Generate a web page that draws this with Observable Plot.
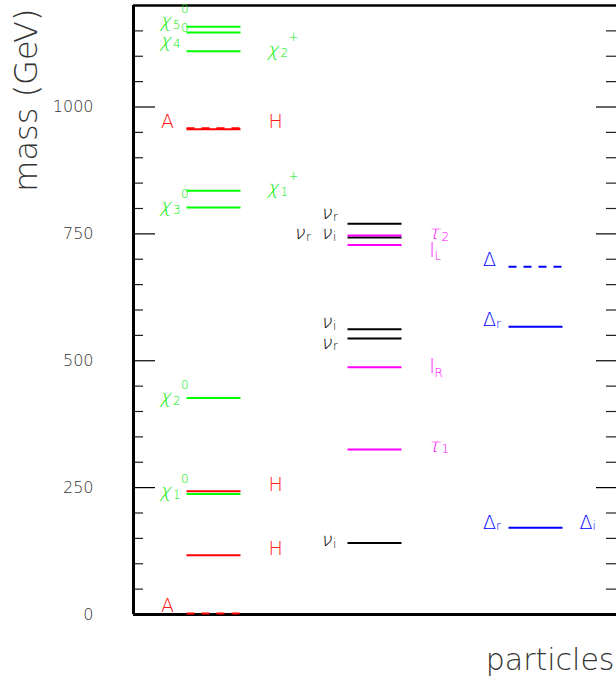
<!DOCTYPE html>
<html><head><meta charset="utf-8">
<script src="https://cdn.jsdelivr.net/npm/d3@7"></script>
<script src="https://cdn.jsdelivr.net/npm/@observablehq/plot@0.6"></script>
<style>body{margin:0;background:#fff}</style>
</head><body><div id="chart"></div>
<script>
// column index: 0 = Higgs & gauginos, 1 = sleptons & sneutrinos, 2 = triplet Δ
const neutralinoMass = [237.6, 426.5, 802, 1147, 1158];   // χ1..χ5 neutral
const charginoMass   = [835, 1110];                       // χ1+, χ2+
const higgsHMass     = [116.8, 242.7, 956];               // H (solid)
const higgsAMass     = [2, 958];                          // A (dashed)
const sneutrinoMass  = [141, 544, 562, 743, 770];         // ν_r / ν_i
const sleptonMass    = [325, 487, 728, 747];              // τ1, l_R, l_L, τ2
const deltaMass      = [171, 567];                        // Δ_r / Δ_i
const deltaDashMass  = [685];                             // Δ (dashed)

const majorTicks = [0, 250, 500, 750, 1000];
const minorTicks = d3.range(50, 1200, 50).filter(v => v % 250 !== 0);

// labels: column, side, label height (GeV), base glyph, subscript, superscript, family
const labels = [
  {c:0, s:"L", m:1170, b:"χ", sub:"5", sup:"0", f:"chi"},
  {c:0, s:"L", m:1131, b:"χ", sub:"4", sup:"0", f:"chi"},
  {c:0, s:"R", m:1113, b:"χ", sub:"2", sup:"+", f:"chi"},
  {c:0, s:"L", m:971,  b:"A", f:"higgs"},
  {c:0, s:"R", m:971,  b:"H", f:"higgs"},
  {c:0, s:"R", m:841,  b:"χ", sub:"1", sup:"+", f:"chi"},
  {c:0, s:"L", m:805,  b:"χ", sub:"3", sup:"0", f:"chi"},
  {c:0, s:"L", m:428,  b:"χ", sub:"2", sup:"0", f:"chi"},
  {c:0, s:"L", m:243,  b:"χ", sub:"1", sup:"0", f:"chi"},
  {c:0, s:"R", m:255,  b:"H", f:"higgs"},
  {c:0, s:"R", m:129,  b:"H", f:"higgs"},
  {c:0, s:"L", m:17,   b:"A", f:"higgs"},
  {c:1, s:"L", m:791,  b:"ν", sub:"r", f:"nu"},
  {c:1, s:"LL", m:752, b:"ν", sub:"r", f:"nu"},
  {c:1, s:"L", m:752,  b:"ν", sub:"i", f:"nu"},
  {c:1, s:"R", m:752,  b:"τ", sub:"2", f:"slep"},
  {c:1, s:"R", m:717,  b:"l", sub:"L", f:"slep"},
  {c:1, s:"L", m:577,  b:"ν", sub:"i", f:"nu"},
  {c:1, s:"L", m:536,  b:"ν", sub:"r", f:"nu"},
  {c:1, s:"R", m:488,  b:"l", sub:"R", f:"slep"},
  {c:1, s:"R", m:333,  b:"τ", sub:"1", f:"slep"},
  {c:1, s:"L", m:146,  b:"ν", sub:"i", f:"nu"},
  {c:2, s:"L", m:698,  b:"Δ", f:"delta"},
  {c:2, s:"L", m:580,  b:"Δ", sub:"r", f:"delta"},
  {c:2, s:"L", m:181,  b:"Δ", sub:"r", f:"delta"},
  {c:2, s:"RR", m:181, b:"Δ", sub:"i", f:"delta"}
];

// ---- styling ----
const FONT = "'DejaVu Sans', Lato, sans-serif";
const famColor = {chi:"#00ee00", higgs:"#ff1a1a", nu:"#000000", slep:"#ff00ff", delta:"#0000ff"};
const sideDx = {L:-53, LL:-80, R:54.5, RR:43.5};
const subDx = {"χ":12, "ν":11, "τ":12, "l":5, "Δ":13, "A":13, "H":13};
const greek = {"χ":true, "ν":true, "τ":true};

const lv = (arr, c) => arr.map(m => ({c, m}));
const levelMark = (data, color, dash) => Plot.ruleY(data, {
  y: "m", x1: d => d.c, x2: d => d.c + 1, insetLeft: 53.5, insetRight: 53.5,
  stroke: color, strokeWidth: 2, strokeDasharray: dash
});

const chart = Plot.plot({
  width: 616, height: 679,
  marginLeft: 133, marginRight: 0, marginTop: 5, marginBottom: 65,
  x: {domain: [0, 3], axis: null},
  y: {domain: [0, 1200], axis: null},
  style: {fontFamily: FONT, fontWeight: 200, background: "#fff"},
  marks: [
    Plot.ruleY(minorTicks, {y: d => d, insetRight: 473, stroke: "#222", strokeWidth: 1.2}),
    Plot.ruleY(majorTicks, {y: d => d, insetRight: 461, stroke: "#000", strokeWidth: 1.2}),
    Plot.ruleY(minorTicks, {y: d => d, insetLeft: 473, stroke: "#222", strokeWidth: 1.2}),
    Plot.ruleY(majorTicks, {y: d => d, insetLeft: 463, stroke: "#000", strokeWidth: 1.2}),
    Plot.ruleX([0], {stroke: "#000", strokeWidth: 3}),
    Plot.ruleY([0], {stroke: "#000", strokeWidth: 3}),
    Plot.ruleY([1200], {stroke: "#000", strokeWidth: 2.5}),
    Plot.axisY(majorTicks, {tickSize: 0, tickPadding: 40, fontSize: 16, label: null, fill: "#333",
      tickFormat: d => String(d)}),
    levelMark(lv(neutralinoMass, 0), "#00ff00"),
    levelMark(lv(charginoMass, 0), "#00ff00"),
    levelMark(lv(higgsHMass, 0), "#ff0000"),
    levelMark(lv(higgsAMass, 0), "#ff0000", "8,7"),
    levelMark(lv(sneutrinoMass, 1), "#000000"),
    levelMark(lv(sleptonMass, 1), "#ff00ff"),
    levelMark(lv(deltaMass, 2), "#0000ff"),
    levelMark(lv(deltaDashMass, 2), "#0000ff", "8,7"),
    ...Object.keys(sideDx).flatMap(side => {
      const base = labels.filter(d => d.s === side);
      const groups = d3.groups(base, d => d.b);
      return groups.flatMap(([glyph, rows]) => [
        Plot.text(rows, {x: d => d.c + 0.5, y: "m", text: "b", textAnchor: "start", lineAnchor: "middle",
          dx: sideDx[side], fill: d => famColor[d.f], fontSize: 19, fontWeight: 200,
          className: greek[glyph] ? "greek" : "latin"}),
        Plot.text(rows.filter(d => d.sub), {x: d => d.c + 0.5, y: "m", text: "sub", textAnchor: "start", lineAnchor: "middle",
          dx: sideDx[side] + subDx[glyph], dy: glyph === "l" ? 6 : 4, fill: d => famColor[d.f], fontSize: 12, fontWeight: 200}),
        Plot.text(rows.filter(d => d.sup), {x: d => d.c + 0.5, y: "m", text: "sup", textAnchor: "start", lineAnchor: "middle",
          dx: sideDx[side] + 20, dy: -12, fill: d => famColor[d.f], fontSize: 12, fontWeight: 200})
      ]);
    }),
    Plot.text(["mass (GeV)"], {frameAnchor: "top-left", rotate: -90, textAnchor: "end", lineAnchor: "middle",
      dx: -107, dy: 3, fontSize: 32, fill: "#333"}),
    Plot.text(["particles"], {frameAnchor: "bottom-right", textAnchor: "end", lineAnchor: "middle",
      dx: -2, dy: 46, fontSize: 30, fill: "#333"})
  ]
});

// slant the Greek glyphs (thin upright face + skew, like the original italic symbols)
chart.querySelectorAll(".greek text").forEach(t => {
  const tr = t.getAttribute("transform");
  if (tr) t.setAttribute("transform", `${tr} skewX(-14)`);
});
document.getElementById("chart").append(chart);
</script>
</body></html>
